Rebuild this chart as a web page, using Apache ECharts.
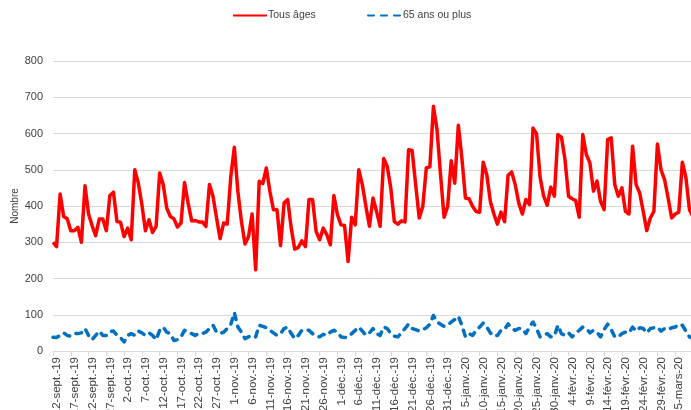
<!DOCTYPE html>
<html>
<head>
<meta charset="utf-8">
<script src="https://cdn.jsdelivr.net/npm/echarts@6/dist/echarts.min.js"></script>
<style>
  html, body { margin: 0; padding: 0; background: #ffffff; }
  .chart-container { width: 691px; height: 410px; }
</style>
</head>
<body>
<div class="chart-container" id="chart"></div>
<script>
  // first day of the daily series, labels every 5 days
  const startDate = [2019, 8, 12];
  const monthNames = ['janv.', 'févr.', 'mars', 'avr.', 'mai', 'juin', 'juil.', 'août', 'sept.', 'oct.', 'nov.', 'déc.'];
  const yTicks = [0, 100, 200, 300, 400, 500, 600, 700, 800];

  const tousAges = [
    300, 288, 433, 371, 365, 332, 332, 341, 300, 456,
    378, 346, 318, 364, 364, 332, 429, 438, 357, 355,
    316, 339, 307, 500, 463, 404, 332, 362, 327, 344,
    491, 459, 394, 371, 365, 342, 353, 465, 408, 359,
    360, 356, 356, 344, 459, 427, 367, 310, 353, 350,
    480, 562, 440, 357, 295, 316, 378, 224, 468, 462,
    505, 440, 390, 390, 291, 408, 418, 339, 281, 286,
    304, 288, 418, 418, 330, 307, 339, 321, 293, 429,
    376, 348, 346, 247, 369, 348, 500, 459, 399, 344,
    422, 385, 344, 531, 509, 450, 357, 350, 359, 356,
    555, 553, 459, 367, 399, 505, 508, 675, 611, 486,
    369, 399, 525, 463, 623, 532, 422, 420, 399, 385,
    383, 521, 486, 413, 378, 350, 383, 357, 485, 494,
    459, 408, 378, 418, 404, 615, 599, 479, 427, 402,
    452, 427, 597, 590, 528, 427, 420, 415, 369, 597,
    542, 519, 441, 469, 413, 390, 583, 588, 459, 427,
    450, 385, 378, 565, 459, 436, 385, 332, 367, 385,
    571, 500, 473, 422, 367, 378, 383, 521, 479, 390,
    370
  ];

  const plus65 = [
    38, 37, 43, 50, 43, 41, 48, 48, 50, 62,
    43, 31, 43, 55, 43, 43, 54, 55, 43, 37,
    25, 43, 48, 43, 55, 50, 43, 50, 43, 31,
    57, 66, 52, 48, 29, 31, 39, 57, 52, 48,
    43, 48, 48, 52, 62, 71, 52, 48, 52, 62,
    73, 106, 66, 52, 34, 39, 43, 39, 71, 68,
    64, 57, 50, 43, 48, 62, 66, 48, 34, 43,
    57, 59, 57, 48, 41, 39, 46, 43, 52, 57,
    52, 39, 37, 39, 48, 57, 66, 55, 43, 50,
    62, 48, 43, 66, 62, 48, 41, 39, 50, 62,
    74, 62, 59, 55, 59, 64, 74, 98, 80, 74,
    68, 71, 80, 87, 96, 71, 39, 48, 43, 57,
    66, 77, 66, 50, 41, 43, 57, 59, 75, 62,
    57, 62, 62, 48, 66, 80, 62, 39, 43, 48,
    39, 41, 71, 48, 43, 50, 39, 50, 57, 66,
    62, 50, 57, 52, 39, 59, 74, 59, 39, 39,
    48, 52, 50, 66, 55, 64, 62, 50, 62, 64,
    66, 55, 62, 59, 64, 66, 74, 71, 55, 39,
    35
  ];

  const categories = tousAges.map((v, i) => {
    const d = new Date(startDate[0], startDate[1], startDate[2] + i);
    return d.getDate() + '-' + monthNames[d.getMonth()] + '-' + String(d.getFullYear()).slice(2);
  });

  const fontFamily = "'Liberation Sans', Arial, sans-serif";
  const myChart = echarts.init(document.getElementById('chart'));

  const legendItem = (name, left) => ({
    data: [name],
    left: left,
    top: 5,
    itemWidth: 34,
    itemHeight: 10,
    itemGap: 0,
    itemStyle: { opacity: 0 },
    textStyle: { color: '#404040', fontSize: 10.5, fontFamily: fontFamily, padding: [0, 0, 0, -4] },
  });

  const chartOption = () => {
    myChart.setOption({
      animation: false,
      legend: [legendItem('Tous âges', 227), legendItem('65 ans ou plus', 362)],
      grid: {
        left: 53,
        right: -2,
        top: 61,
        bottom: 59,
        outerBoundsMode: 'none',
      },
      xAxis: {
        type: 'category',
        data: categories,
        boundaryGap: false,
        axisLine: { lineStyle: { color: '#d9d9d9' } },
        axisTick: { interval: 4, length: 5, lineStyle: { color: '#d9d9d9' } },
        axisLabel: {
          interval: 4,
          rotate: 90,
          margin: 6,
          verticalAlign: 'top',
          lineHeight: 8,
          color: '#404040',
          fontSize: 11.5,
          fontFamily: fontFamily,
        },
        splitLine: { show: false },
      },
      yAxis: {
        type: 'value',
        min: yTicks[0],
        max: yTicks[yTicks.length - 1],
        interval: 100,
        name: 'Nombre',
        nameLocation: 'middle',
        nameRotate: 90,
        nameGap: 33,
        nameMoveOverlap: false,
        nameTextStyle: { color: '#404040', fontSize: 10, fontFamily: fontFamily },
        axisLine: { show: false },
        axisTick: { show: false },
        axisLabel: { margin: 10, color: '#404040', fontSize: 11, fontFamily: fontFamily },
        splitLine: { lineStyle: { color: '#d9d9d9', width: 1 } },
      },
      series: [
        {
          name: 'Tous âges',
          type: 'line',
          data: tousAges,
          symbol: 'none',
          lineStyle: { color: '#ff0000', width: 3.5, join: 'round' },
          itemStyle: { color: '#ff0000' },
        },
        {
          name: '65 ans ou plus',
          type: 'line',
          data: plus65,
          symbol: 'none',
          lineStyle: { color: '#0070c0', width: 3.5, type: [6, 7], cap: 'round', join: 'round' },
          itemStyle: { color: '#0070c0' },
        },
      ],
    });
  };

  chartOption();
  window.addEventListener('resize', function () {
    myChart && myChart.resize();
  });
</script>
</body>
</html>
